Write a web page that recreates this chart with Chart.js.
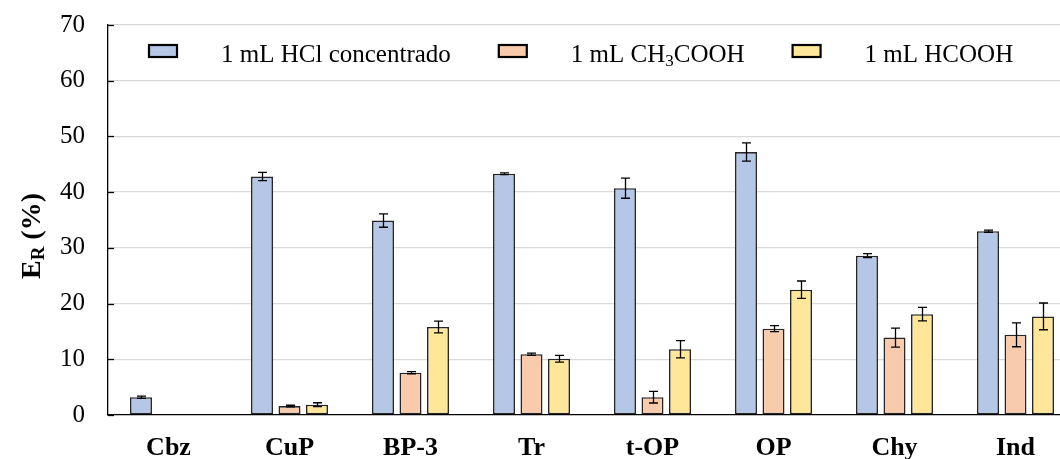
<!DOCTYPE html>
<html>
<head>
<meta charset="utf-8">
<script src="https://cdn.jsdelivr.net/npm/chart.js@4.4.1/dist/chart.umd.min.js"></script>
<style>
  html, body { margin: 0; padding: 0; background: #ffffff; overflow: hidden; }
  #c { display: block; }
</style>
</head>
<body>
<canvas id="c" width="1076" height="459"></canvas>
<script>
// Recovery (E_R, %) per analyte and acid used in the extraction, with standard deviations
const categories = ['Cbz', 'CuP', 'BP-3', 'Tr', 't-OP', 'OP', 'Chy', 'Ind'];
const seriesNames = ['1 mL HCl concentrado', '1 mL CH\u2083COOH', '1 mL HCOOH'];

const hclValues    = [3.2, 42.8, 34.9, 43.3, 40.7, 47.2, 28.6, 33.0];
const hclErrors    = [0.2, 0.75, 1.2, 0.15, 1.8, 1.65, 0.35, 0.2];
const aceticValues = [null, 1.6, 7.6, 10.9, 3.2, 15.5, 13.9, 14.4];
const aceticErrors = [0, 0.15, 0.2, 0.2, 1.05, 0.55, 1.7, 2.15];
const formicValues = [null, 1.85, 15.8, 10.1, 11.8, 22.5, 18.1, 17.7];
const formicErrors = [0, 0.35, 1.05, 0.6, 1.55, 1.55, 1.2, 2.4];

const yMin = 0, yMax = 70, yStep = 10;
const yTitleMain = 'E', yTitleSub = 'R', yTitleTail = ' (%)';

const seriesColors = ['#B4C7E7', '#F8CBAD', '#FFE699'];
const SERIF = "'Liberation Serif', 'Times New Roman', serif";

// Error bars with caps, positioned from each bar element and the value scale
const errorBars = {
  id: 'errorBars',
  afterDatasetsDraw(chart) {
    const ctx = chart.ctx, y = chart.scales.y;
    ctx.save();
    ctx.strokeStyle = '#000';
    ctx.lineWidth = 1.3;
    chart.data.datasets.forEach((ds, i) => {
      chart.getDatasetMeta(i).data.forEach((bar, j) => {
        const v = ds.data[j], e = ds.errors[j];
        if (v == null || !e) return;
        const top = y.getPixelForValue(v + e), bot = y.getPixelForValue(v - e);
        const x = Math.round(bar.x) + 0.5, cap = 4.5;
        ctx.beginPath();
        ctx.moveTo(x, top); ctx.lineTo(x, bot);
        ctx.moveTo(x - cap, top); ctx.lineTo(x + cap, top);
        ctx.moveTo(x - cap, bot); ctx.lineTo(x + cap, bot);
        ctx.stroke();
      });
    });
    ctx.restore();
  }
};

// Draws a string where U+2080..U+2089 become smaller lowered digits
function drawRich(ctx, text, x, y, size, weight) {
  const parts = [];
  for (const ch of text) {
    const code = ch.codePointAt(0);
    const sub = code >= 0x2080 && code <= 0x2089;
    const c = sub ? String(code - 0x2080) : ch;
    if (parts.length && parts[parts.length - 1].sub === sub) parts[parts.length - 1].t += c;
    else parts.push({ t: c, sub });
  }
  let cx = x;
  parts.forEach(p => {
    const fs = p.sub ? Math.round(size * 0.68) : size;
    ctx.font = `${weight} ${fs}px ${SERIF}`;
    ctx.fillText(p.t, cx, y + (p.sub ? size * 0.16 : 0));
    cx += ctx.measureText(p.t).width;
  });
  return cx - x;
}

// Legend row inside the plot, inward y tick marks and the y-axis title
const decorations = {
  id: 'decorations',
  afterDraw(chart) {
    const ctx = chart.ctx, area = chart.chartArea, y = chart.scales.y;
    ctx.save();

    // inward tick marks on the value axis
    ctx.strokeStyle = '#000';
    ctx.lineWidth = 1.3;
    y.ticks.forEach(t => {
      const py = Math.round(y.getPixelForValue(t.value)) + 0.5;
      ctx.beginPath();
      ctx.moveTo(area.left, py); ctx.lineTo(area.left + 6, py);
      ctx.stroke();
    });

    // legend
    ctx.textBaseline = 'alphabetic';
    ctx.textAlign = 'left';
    ctx.fillStyle = '#000';
    let x = area.left + 41;
    const boxY = area.top + 20;
    chart.data.datasets.forEach((ds, i) => {
      ctx.fillStyle = ds.backgroundColor;
      ctx.fillRect(x, boxY, 28, 12);
      ctx.lineWidth = 2.2;
      ctx.strokeStyle = '#000';
      ctx.strokeRect(x, boxY, 28, 12);
      ctx.fillStyle = '#000';
      const w = drawRich(ctx, ds.label, x + 72, area.top + 36.5, 25, 'normal');
      x += 72 + w + 48;
    });

    // y-axis title, rotated, with subscript
    ctx.translate(40, 236);
    ctx.rotate(-Math.PI / 2);
    ctx.font = `bold 28px ${SERIF}`;
    const w1 = ctx.measureText(yTitleMain).width;
    ctx.font = `bold 19px ${SERIF}`;
    const w2 = ctx.measureText(yTitleSub).width;
    ctx.font = `bold 28px ${SERIF}`;
    const w3 = ctx.measureText(yTitleTail).width;
    let tx = -(w1 + w2 + w3) / 2;
    ctx.fillText(yTitleMain, tx, 0); tx += w1;
    ctx.font = `bold 19px ${SERIF}`;
    ctx.fillText(yTitleSub, tx, 4); tx += w2;
    ctx.font = `bold 28px ${SERIF}`;
    ctx.fillText(yTitleTail, tx, 0);

    ctx.restore();
  }
};

const valueSets = [hclValues, aceticValues, formicValues];
const errorSets = [hclErrors, aceticErrors, formicErrors];

new Chart(document.getElementById('c'), {
  type: 'bar',
  data: {
    labels: categories,
    datasets: seriesNames.map((name, i) => ({
      label: name,
      data: valueSets[i],
      errors: errorSets[i],
      backgroundColor: seriesColors[i],
      borderColor: '#262626',
      borderWidth: 1.6,
      borderSkipped: false,
      categoryPercentage: 0.682,
      barPercentage: 0.8
    }))
  },
  options: {
    responsive: false,
    animation: false,
    devicePixelRatio: 1,
    layout: { padding: { top: 25, right: 0, bottom: 0, left: 0 } },
    plugins: { legend: { display: false }, tooltip: { enabled: false } },
    scales: {
      x: {
        grid: { display: false, drawTicks: false },
        border: { display: true, color: '#000', width: 1.3 },
        ticks: {
          color: '#000',
          padding: 18,
          font: { family: SERIF, size: 26, weight: 'bold' },
          maxRotation: 0
        },
        afterFit(scale) { scale.height = 44; }
      },
      y: {
        min: yMin, max: yMax,
        grid: {
          color: ctx => ctx.tick && ctx.tick.value === 0 ? 'rgba(0,0,0,0)' : '#d9d9d9',
          lineWidth: 1.3,
          drawTicks: false
        },
        border: { display: true, color: '#000', width: 1.3 },
        ticks: {
          stepSize: yStep,
          color: '#000',
          padding: 23,
          font: { family: SERIF, size: 25 }
        },
        afterFit(scale) {
          scale.width = 108;
          scale.paddingTop = 0;
          scale.paddingBottom = 0;
        }
      }
    }
  },
  plugins: [errorBars, decorations]
});
</script>
</body>
</html>
